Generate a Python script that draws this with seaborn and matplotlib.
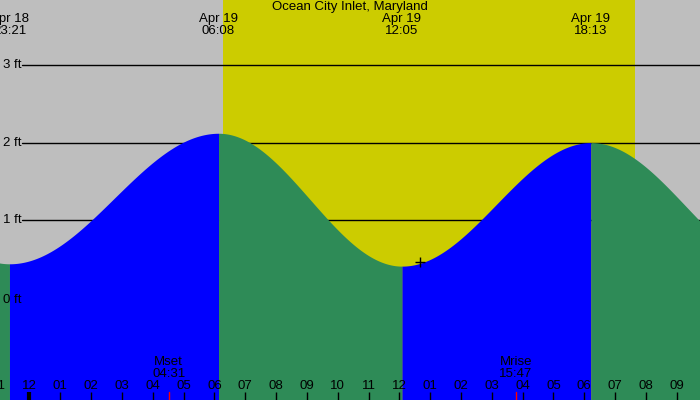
import numpy as np
import pandas as pd
import matplotlib
matplotlib.use("Agg")
import matplotlib.pyplot as plt
import matplotlib.transforms as mtransforms
import seaborn as sns

# ---- data (hours relative to Apr 19 00:00) ----
tide_times = [-6.8, -0.65, 6.133, 12.083, 18.217, 24.4]
tide_heights = [2.0, 0.44, 2.12, 0.41, 2.0, 0.35]
tide_dates = ["", "Apr 18", "Apr 19", "Apr 19", "Apr 19", ""]
tide_clock = ["", "23:21", "06:08", "12:05", "18:13", ""]
sunrise, sunset = 6.28, 19.65
moon_times = [4.517, 15.783]
moon_names = ["Mset", "Mrise"]
moon_clock = ["04:31", "15:47"]
hour_ticks = list(range(-1, 22))
hour_labels = ["11", "12", "01", "02", "03", "04", "05", "06", "07", "08", "09", "10", "11",
               "12", "01", "02", "03", "04", "05", "06", "07", "08", "09"]
grid_levels = [1, 2, 3]
title = "Ocean City Inlet, Maryland"

sns.set_style("white")
plt.rcParams["font.family"] = ["Liberation Sans", "DejaVu Sans"]
plt.rcParams["text.color"] = "black"

GRAY = "#bebebe"
YELLOW = "#cccc00"
BLUE = "#0000ff"
GREEN = "#2e8b57"
FS = 9.5

fig = plt.figure(figsize=(7, 4), dpi=100)
ax = fig.add_axes([0, 0, 1, 1])
ax.set_facecolor(GRAY)
xmin, xmax = -0.957, 21.755
ymin, ymax = -1.313, 3.835
for s in ax.spines.values():
    s.set_visible(False)

# daylight
ax.axvspan(sunrise, sunset, color=YELLOW, zorder=0.5, lw=0)

# grid lines
for lv in grid_levels:
    ax.plot([-0.24, xmax], [lv, lv], color="black", lw=1, zorder=1)
    ax.text(xmin + 0.09, lv, f"{lv} ft", ha="left", va="center", fontsize=FS, color="black", zorder=5)
ax.text(xmin + 0.09, -0.02, "0 ft", ha="left", va="center", fontsize=FS, color="black", zorder=5)

# tide curve: cosine interpolation between consecutive extremes
rows = []
for i in range(len(tide_times) - 1):
    t0, t1 = tide_times[i], tide_times[i + 1]
    h0, h1 = tide_heights[i], tide_heights[i + 1]
    tt = np.linspace(t0, t1, 200)
    hh = h1 + (h0 - h1) * (1 + np.cos(np.pi * (tt - t0) / (t1 - t0))) / 2
    rows.append(pd.DataFrame({"t": tt, "h": hh, "seg": i}))
df = pd.concat(rows, ignore_index=True)

for i, g in df.groupby("seg"):
    rising = tide_heights[i + 1] > tide_heights[i]
    ax.fill_between(g["t"], ymin, g["h"], color=BLUE if rising else GREEN, lw=0, zorder=2)
sns.lineplot(data=df, x="t", y="h", units="seg", estimator=None, ax=ax,
             color=GREEN, lw=0, legend=False, zorder=2)
ax.set_xlim(xmin, xmax)
ax.set_ylim(ymin, ymax)
ax.set_xticks([])
ax.set_yticks([])
ax.set_xlabel("")
ax.set_ylabel("")

# small marker near second low
ax.plot([tide_times[3] + 0.6], [tide_heights[3] + 0.05], marker="+", color="black",
        ms=7, mew=1, zorder=4)

def ypx(p):
    return 1 - p / 400

trans = mtransforms.blended_transform_factory(ax.transData, ax.transAxes)

# top labels
ax.text(0.5, ypx(7), title, transform=ax.transAxes, ha="center", va="center", fontsize=FS, color="black")
for t, d, c in zip(tide_times, tide_dates, tide_clock):
    if d:
        ax.text(t, ypx(19), d, transform=trans, ha="center", va="center", fontsize=FS, color="black")
        ax.text(t, ypx(31), c, transform=trans, ha="center", va="center", fontsize=FS, color="black")

# bottom hour ticks and labels
for t, lab in zip(hour_ticks, hour_labels):
    ax.plot([t, t], [0, 8 / 400], transform=trans, color="black",
            lw=3 if t == 0 else 1, zorder=4, solid_capstyle="butt")
    ax.text(t, ypx(386), lab, transform=trans, ha="center", va="center", fontsize=FS,
            color="black", zorder=5)

for t, n, c in zip(moon_times, moon_names, moon_clock):
    ax.plot([t, t], [0, 8 / 400], transform=trans, color="red", lw=1, zorder=4)
    ax.text(t, ypx(362), n, transform=trans, ha="center", va="center", fontsize=FS, color="black", zorder=5)
    ax.text(t, ypx(374), c, transform=trans, ha="center", va="center", fontsize=FS, color="black", zorder=5)

fig.savefig("out.png", dpi=100)
